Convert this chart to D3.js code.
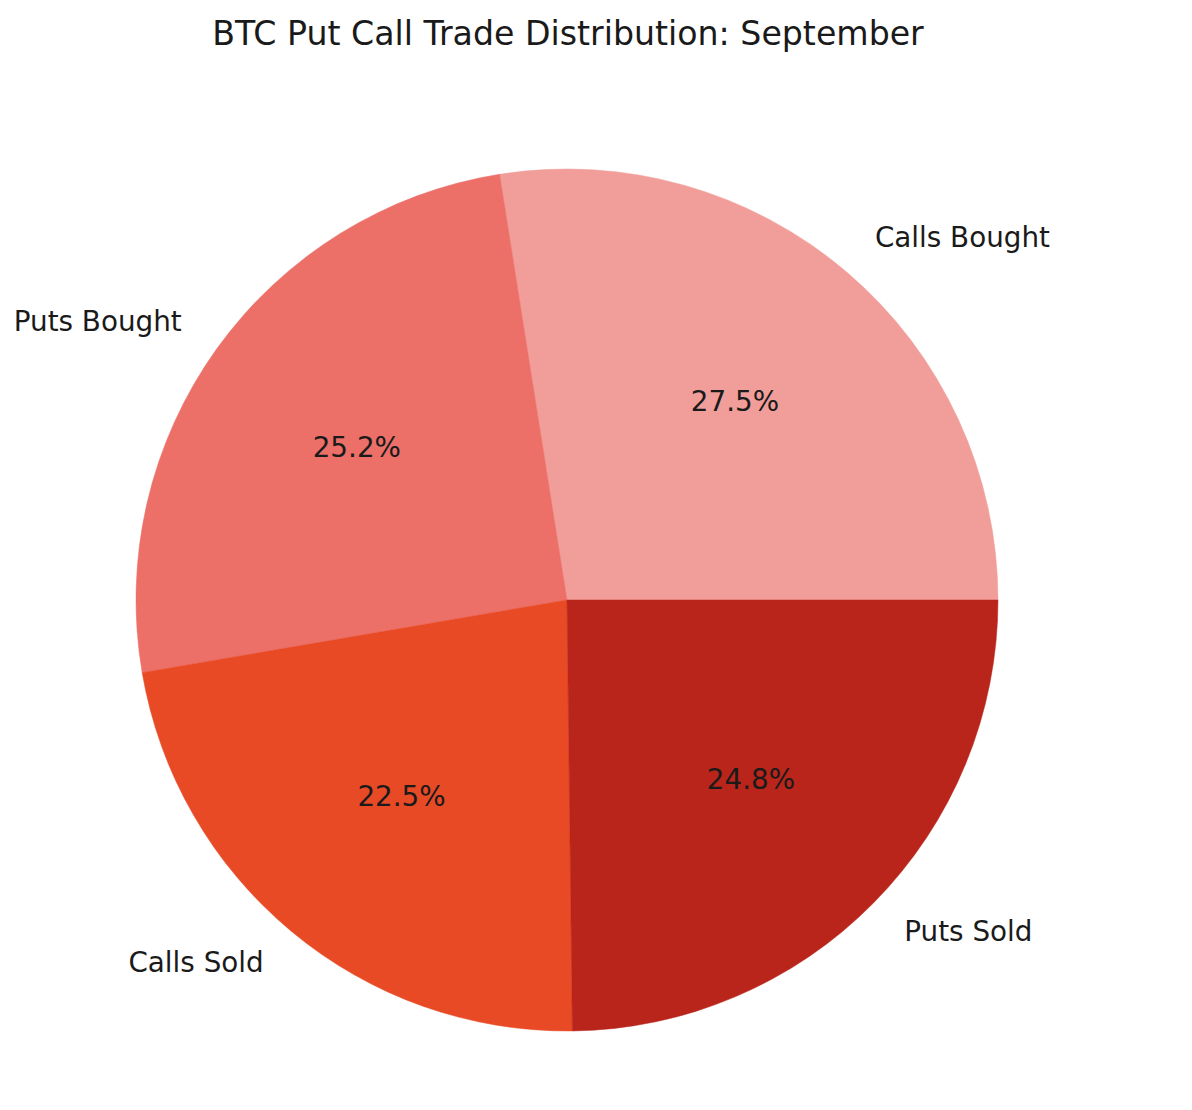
<!DOCTYPE html>
<html>
<head>
<meta charset="utf-8">
<script src="https://cdn.jsdelivr.net/npm/d3@7"></script>
<style>
html,body{margin:0;padding:0;background:#fff;}
svg{display:block;}
text{font-family:"DejaVu Sans",sans-serif;fill:#1a1a1a;}
</style>
</head>
<body>
<svg id="chart" width="1192" height="1110"></svg>
<script>
const categories = ["Calls Bought", "Puts Bought", "Calls Sold", "Puts Sold"];
const values = [27.5, 25.2, 22.5, 24.8];
const colors = ["#f19e9a", "#ec6f68", "#e84a26", "#b9251a"];
const title = "BTC Put Call Trade Distribution: September";

const W = 1192, H = 1110;
const cx = 567, cy = 600, R = 431;
const svg = d3.select("#chart");

svg.append("text")
  .attr("x", 568).attr("y", 33)
  .attr("text-anchor", "middle")
  .attr("dominant-baseline", "central")
  .style("font-size", "33.2px")
  .text(title);

const data = categories.map((c, i) => ({name: c, value: values[i], color: colors[i]}));

// matplotlib: start at 3 o'clock, counterclockwise. d3: 0 at 12 o'clock, clockwise.
const pie = d3.pie().value(d => d.value).sort(null)
  .startAngle(Math.PI / 2).endAngle(Math.PI / 2 - 2 * Math.PI);
const arcs = pie(data);
const arc = d3.arc().innerRadius(0).outerRadius(R);

const g = svg.append("g").attr("transform", `translate(${cx},${cy})`);
g.selectAll("path").data(arcs).join("path")
  .attr("d", arc)
  .attr("fill", d => d.data.color)
  .attr("stroke", d => d.data.color)
  .attr("stroke-width", 0.5);

function pos(d, f) {
  const a = (d.startAngle + d.endAngle) / 2; // d3 angle
  return [Math.sin(a) * R * f, -Math.cos(a) * R * f];
}

g.selectAll("text.lbl").data(arcs).join("text")
  .attr("class", "lbl")
  .attr("x", d => pos(d, 1.1)[0])
  .attr("y", d => pos(d, 1.1)[1] - 2)
  .attr("text-anchor", d => pos(d, 1.1)[0] > 0 ? "start" : "end")
  .attr("dominant-baseline", "central")
  .style("font-size", "27.8px")
  .text(d => d.data.name);

g.selectAll("text.pct").data(arcs).join("text")
  .attr("class", "pct")
  .attr("x", d => pos(d, 0.6)[0])
  .attr("y", d => pos(d, 0.6)[1] - 2)
  .attr("text-anchor", "middle")
  .attr("dominant-baseline", "central")
  .style("font-size", "27.8px")
  .text(d => d.data.value.toFixed(1) + "%");
</script>
</body>
</html>
